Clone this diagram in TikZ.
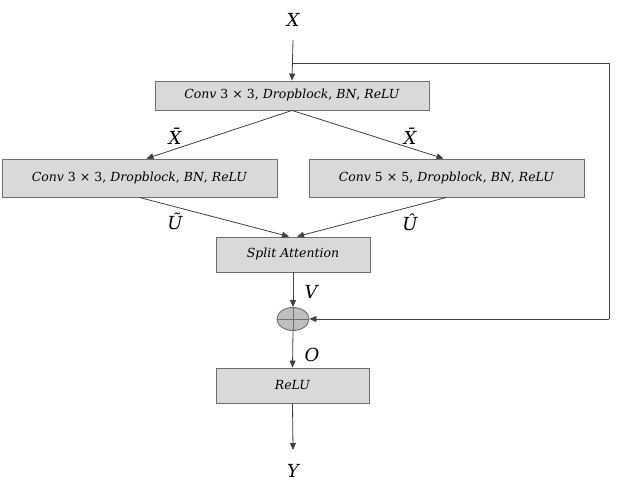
\documentclass[tikz,border=0pt]{standalone}
\usepackage{fontspec}
\setmainfont{DejaVu Serif}
\usetikzlibrary{arrows.meta,shapes.geometric}
\definecolor{boxfill}{HTML}{D9D9D9}
\definecolor{boxline}{HTML}{6E6E6E}
\definecolor{lin}{HTML}{404040}
\definecolor{plusfill}{HTML}{BFBFBF}
\newcommand{\iv}[1]{\textit{#1}}
\begin{document}
\begin{tikzpicture}[x=1pt,y=-1pt,
  blk/.style={draw=boxline,fill=boxfill,line width=0.9pt,inner sep=0pt,font=\fontsize{12.5}{15}\selectfont},
  lbl/.style={font=\fontsize{18}{22}\selectfont\itshape,inner sep=0pt},
  arr/.style={draw=lin,line width=0.8pt,-{Triangle[length=7pt,width=6pt]}},
  ln/.style={draw=lin,line width=0.8pt}]
\useasboundingbox (0,0) rectangle (629,482);
\node[blk,minimum width=274pt,minimum height=29pt] (b1) at (292,95.5) {\iv{Conv} 3 × 3, \iv{Dropblock}, \iv{BN}, \iv{ReLU}};
\node[blk,minimum width=275pt,minimum height=38pt] (b2) at (139.5,178) {\iv{Conv} 3 × 3, \iv{Dropblock}, \iv{BN}, \iv{ReLU}};
\node[blk,minimum width=275pt,minimum height=38pt] (b3) at (446.5,178) {\iv{Conv} 5 × 5, \iv{Dropblock}, \iv{BN}, \iv{ReLU}};
\node[blk,minimum width=154pt,minimum height=35pt] (sa) at (293,254.5) {\iv{Split Attention}};
\node[blk,minimum width=153pt,minimum height=35pt] (relu) at (292.5,385.5) {\iv{ReLU}};
\node[ellipse,draw=boxline,fill=plusfill,line width=0.9pt,minimum width=32pt,minimum height=23pt,inner sep=0pt,
  path picture={\draw[boxline,line width=0.8pt] (path picture bounding box.north) -- (path picture bounding box.south)
  (path picture bounding box.west) -- (path picture bounding box.east);}] (plus) at (293,319) {};
\node[lbl] (x) at (293,20) {X};
\node[lbl] (y) at (293,471) {Y};
\node[lbl] (xb1) at (175,136) {\=X};
\node[lbl] (xb2) at (410,136) {\=X};
\node[lbl] (ut) at (175,221) {\~U};
\node[lbl] (uh) at (410,222) {\^U};
\node[lbl] (v) at (311,292) {V};
\node[lbl] (o) at (312,355) {O};
\coordinate (xin) at (293,40);
\coordinate (fb) at (293,63);
\coordinate (fbr) at (609,63);
\coordinate (fbr2) at (609,319);
\coordinate (yend) at (293,450);
\draw[arr] (xin) -- (b1.north);
\draw[ln] (fb) -- (fbr) -- (fbr2);
\draw[arr] (fbr2) -- (plus.east);
\draw[arr] (b1.south) -- ([xshift=7pt]b2.north);
\draw[arr] (b1.south) -- ([xshift=-3pt]b3.north);
\draw[arr] (b2.south) -- ([xshift=-4pt]sa.north);
\draw[arr] (b3.south) -- ([xshift=4pt]sa.north);
\draw[arr] (sa.south) -- (plus.north);
\draw[arr] (plus.south) -- (relu.north);
\draw[arr] (relu.south) -- (yend);
\end{tikzpicture}
\end{document}
